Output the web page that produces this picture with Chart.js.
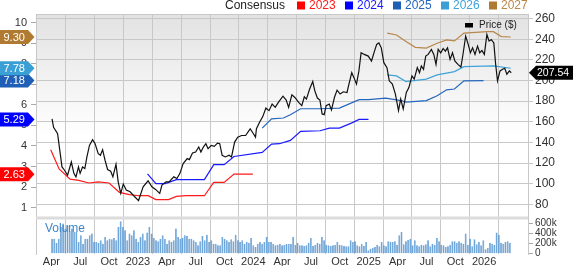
<!DOCTYPE html>
<html>
<head>
<meta charset="utf-8">
<script src="https://cdn.jsdelivr.net/npm/chart.js@4.4.1/dist/chart.umd.min.js"></script>
<style>
  html, body { margin: 0; padding: 0; background: #fff; }
  canvas { display: block; }
</style>
</head>
<body>
<canvas id="chart" width="573" height="266"></canvas>
<script>
// dates are decimal years, prices in $, EPS in $, volume in thousands of shares
const priceDates = [
  2022.256, 2022.269, 2022.304, 2022.323, 2022.342, 2022.364, 2022.390, 2022.423, 2022.445, 2022.463,
  2022.485, 2022.499, 2022.520, 2022.540, 2022.558, 2022.580, 2022.607, 2022.629, 2022.656, 2022.675,
  2022.694, 2022.715, 2022.737, 2022.764, 2022.783, 2022.810, 2022.829, 2022.851, 2022.873, 2022.899,
  2022.932, 2022.972, 2023.005, 2023.045, 2023.088, 2023.121, 2023.153, 2023.189, 2023.208, 2023.243,
  2023.270, 2023.311, 2023.338, 2023.364, 2023.392, 2023.427, 2023.446, 2023.473, 2023.500, 2023.527,
  2023.546, 2023.567, 2023.589, 2023.608, 2023.636, 2023.662, 2023.689, 2023.709, 2023.730, 2023.757,
  2023.790, 2023.811, 2023.838, 2023.865, 2023.898, 2023.933, 2023.973, 2024.001, 2024.019, 2024.027,
  2024.054, 2024.082, 2024.109, 2024.136, 2024.163, 2024.190, 2024.217, 2024.257, 2024.285, 2024.306,
  2024.334, 2024.360, 2024.393, 2024.420, 2024.442, 2024.460, 2024.488, 2024.515, 2024.533, 2024.555,
  2024.577, 2024.596, 2024.614, 2024.631, 2024.658, 2024.677, 2024.704, 2024.726, 2024.752, 2024.780,
  2024.812, 2024.825, 2024.853, 2024.872, 2024.894, 2024.915, 2024.934, 2024.961, 2024.996, 2025.024,
  2025.050, 2025.069, 2025.088, 2025.109, 2025.131, 2025.158, 2025.178, 2025.205, 2025.231, 2025.258,
  2025.277, 2025.299, 2025.326, 2025.348, 2025.375, 2025.394, 2025.421, 2025.440, 2025.456, 2025.475,
  2025.494, 2025.515, 2025.543, 2025.564, 2025.583, 2025.602, 2025.624, 2025.645, 2025.664, 2025.683,
  2025.705, 2025.726, 2025.746, 2025.773, 2025.799, 2025.819, 2025.840, 2025.862, 2025.881, 2025.900,
  2025.921, 2025.943, 2025.962, 2025.981, 2026.002, 2026.024, 2026.043, 2026.062, 2026.084, 2026.100,
  2026.116, 2026.138, 2026.160, 2026.179, 2026.197, 2026.219, 2026.235
];
const priceValues = [
  162.8, 154.7, 148.4, 132.3, 116.2, 113.0, 108.2, 121.0, 110.0, 106.6,
  116.2, 110.0, 116.2, 114.7, 125.9, 137.1, 142.6, 138.7, 129.1, 127.5,
  132.9, 122.7, 113.7, 112.1, 106.6, 118.8, 101.8, 90.6, 99.6, 93.8,
  92.1, 87.3, 83.5, 97.0, 102.8, 97.0, 94.4, 90.6, 98.6, 101.8,
  101.8, 106.6, 105.0, 110.0, 119.5, 124.3, 123.3, 129.7, 130.6, 135.5,
  130.6, 135.5, 138.7, 133.9, 137.1, 136.1, 139.3, 138.7, 127.5, 125.9,
  127.5, 125.9, 140.3, 145.1, 146.7, 146.7, 153.2, 148.4, 145.1, 153.2,
  159.5, 165.0, 173.4, 170.8, 177.2, 174.0, 178.8, 184.8, 181.1, 174.0,
  186.2, 183.6, 178.8, 175.6, 184.3, 182.0, 191.7, 199.0, 190.0, 183.0,
  181.1, 167.6, 166.9, 175.6, 177.2, 171.5, 184.0, 190.7, 186.9, 189.1,
  188.4, 194.8, 207.6, 202.8, 196.5, 209.3, 226.9, 225.3, 223.7, 218.9,
  228.5, 235.0, 236.5, 231.7, 217.3, 212.5, 199.7, 196.5, 186.9, 170.8,
  182.0, 172.4, 188.4, 193.2, 204.5, 201.3, 212.5, 207.6, 214.1, 210.9,
  223.7, 225.3, 230.2, 225.3, 215.7, 230.2, 226.9, 231.1, 228.5, 231.7,
  220.5, 226.9, 218.9, 215.7, 213.1, 226.9, 243.0, 235.0, 226.9, 231.7,
  225.3, 233.3, 226.9, 229.2, 225.3, 244.6, 238.2, 239.8, 236.5, 215.7,
  199.7, 209.3, 210.9, 211.9, 206.1, 209.3, 207.54
];

const eps2023Dates = [2022.244, 2022.317, 2022.412, 2022.488, 2022.575, 2022.656, 2022.750, 2022.840, 2022.926, 2023.007,
  2023.089, 2023.156, 2023.265, 2023.333, 2023.414, 2023.576, 2023.657, 2023.747, 2023.833, 2023.996];
const eps2023Values = [3.82, 2.88, 2.39, 2.33, 2.20, 2.25, 2.20, 1.74, 1.63, 1.58,
  1.58, 1.39, 1.39, 1.55, 1.58, 1.58, 2.23, 2.23, 2.63, 2.63];

const eps2024Dates = [2023.083, 2023.156, 2023.237, 2023.333, 2023.576, 2023.657, 2023.747, 2023.833, 2024.077, 2024.158,
  2024.226, 2024.321, 2024.410, 2024.578, 2024.659, 2024.746, 2024.849, 2024.917, 2024.998];
const eps2024Values = [2.64, 2.17, 2.17, 2.36, 2.36, 3.09, 3.09, 3.49, 3.69, 4.09,
  4.11, 4.27, 4.71, 4.74, 4.87, 4.87, 5.11, 5.29, 5.29];

const eps2025Dates = [2024.077, 2024.158, 2024.261, 2024.321, 2024.410, 2024.578, 2024.746, 2024.917, 2024.998, 2025.147,
  2025.282, 2025.323, 2025.499, 2025.593, 2025.675, 2025.743, 2025.825, 2025.995];
const eps2025Values = [4.87, 5.32, 5.36, 5.52, 5.81, 5.81, 5.84, 6.25, 6.25, 6.33,
  6.21, 6.13, 6.21, 6.44, 6.73, 6.77, 7.17, 7.18];

const eps2026Dates = [2025.160, 2025.241, 2025.323, 2025.499, 2025.593, 2025.743, 2025.825, 2026.081, 2026.231];
const eps2026Values = [7.46, 7.41, 7.13, 7.25, 7.46, 7.62, 7.86, 7.90, 7.78];

const eps2027Dates = [2025.160, 2025.241, 2025.323, 2025.404, 2025.499, 2025.593, 2025.675, 2025.743, 2025.825, 2026.028,
  2026.081, 2026.149, 2026.231];
const eps2027Values = [9.49, 9.40, 9.08, 8.80, 8.76, 9.00, 9.16, 9.11, 9.49, 9.56,
  9.56, 9.32, 9.30];

// weekly volume, first week starting here
const volumeStart = 2022.256;
const volumeValues = [
  297, 297, 211, 297, 528, 594, 495, 561, 442, 495, 429, 429, 231, 363, 198, 297, 297, 363, 396, 231,
  231, 218, 264, 198, 330, 264, 297, 284, 310, 264, 528, 640, 528, 462, 264, 396, 363, 462, 297, 231,
  330, 396, 264, 416, 528, 396, 310, 264, 244, 297, 363, 297, 198, 264, 231, 264, 495, 330, 297, 310,
  363, 350, 297, 297, 264, 231, 165, 244, 350, 264, 376, 231, 264, 198, 198, 165, 165, 330, 297, 264,
  231, 284, 244, 376, 264, 231, 264, 198, 231, 218, 310, 165, 132, 198, 231, 198, 231, 330, 231, 231,
  198, 165, 178, 198, 165,
  178, 191, 191, 191, 330, 178, 211, 165, 165, 152, 165, 218, 310, 152, 178, 218, 198, 330, 264, 178,
  165, 152, 165, 178, 231, 178, 165, 152, 145, 145, 264, 231, 244, 165, 145, 198, 152, 231, 66, 99,
  119, 132, 178, 145, 231, 165, 145, 244, 231, 231, 244, 178, 363, 429, 185, 244, 271, 297, 165, 264,
  165, 145, 178, 165, 185, 264, 145, 198, 178, 310, 244, 178, 165, 132, 145, 178, 244, 244, 218, 244,
  218, 198, 396, 178, 297, 145, 284, 185, 231, 165, 264, 86, 112, 218, 198, 178, 416, 376, 218, 198,
  231, 244, 211
];

const quarterTicks = [2022.25, 2022.5, 2022.75, 2023, 2023.25, 2023.5, 2023.75, 2024, 2024.25, 2024.5,
  2024.75, 2025, 2025.25, 2025.5, 2025.75, 2026];
const quarterLabels = ['Apr', 'Jul', 'Oct', '2023', 'Apr', 'Jul', 'Oct', '2024', 'Apr', 'Jul',
  'Oct', '2025', 'Apr', 'Jul', 'Oct', '2026'];
const priceTicks = [80, 100, 120, 140, 160, 180, 200, 220, 240, 260];
const epsTicks = [1, 2, 3, 4, 5, 6, 7, 8, 9, 10];
const volumeTicks = [0, 200, 400, 600];

const seriesNames = ['2023', '2024', '2025', '2026', '2027'];
const seriesColors = ['#ff1a1a', '#1a1aff', '#2466bd', '#3fa3d9', '#b8874a'];
const badgeColors = ['#ff0000', '#0000ff', '#1f5fb5', '#3a9fd4', '#b07a30'];

const font = '"Liberation Sans", Arial, sans-serif';
const gridColor = '#c8c8c8';

const toPoints = (xs, ys) => xs.map((x, i) => ({ x: x, y: ys[i] }));
const weekLen = 7 / 365.25;
const volumePoints = volumeValues.map((v, i) => ({ x: volumeStart + i * weekLen, y: v }));

const epsSets = [
  [eps2023Dates, eps2023Values],
  [eps2024Dates, eps2024Values],
  [eps2025Dates, eps2025Values],
  [eps2026Dates, eps2026Values],
  [eps2027Dates, eps2027Values]
].map((s, i) => ({
  type: 'line',
  label: seriesNames[i],
  data: toPoints(s[0], s[1]),
  yAxisID: 'yEps',
  borderColor: seriesColors[i],
  borderWidth: 1.2,
  pointRadius: 0,
  order: 1
}));

const decor = {
  id: 'decor',
  beforeDraw(chart) {
    const { ctx, chartArea: a, scales } = chart;
    const split = scales.yPrice.bottom;
    const g = ctx.createLinearGradient(0, a.top, 0, 135);
    g.addColorStop(0, '#e2e2e2');
    g.addColorStop(1, '#ffffff');
    ctx.save();
    ctx.fillStyle = g;
    ctx.fillRect(a.left, a.top, a.right - a.left, split - a.top);
    ctx.restore();
  },
  beforeDatasetsDraw(chart) {
    const { ctx, chartArea: a, scales } = chart;
    const split = scales.yPrice.bottom;
    ctx.save();
    ctx.fillStyle = '#dcdcdc';
    ctx.fillRect(a.left, split - 1.5, a.right - a.left, 3);
    ctx.strokeStyle = gridColor;
    ctx.lineWidth = 1;
    ctx.beginPath();
    ctx.moveTo(a.left, a.top + 0.5);
    ctx.lineTo(a.right, a.top + 0.5);
    ctx.stroke();
    ctx.restore();
  },
  afterDraw(chart) {
    const { ctx, chartArea: a, scales } = chart;
    ctx.save();

    // consensus legend
    ctx.textBaseline = 'middle';
    ctx.font = '12px ' + font;
    ctx.fillStyle = '#222';
    ctx.textAlign = 'right';
    ctx.fillText('Consensus', 285, 5.5);
    ctx.textAlign = 'left';
    seriesNames.forEach((n, i) => {
      const sx = 297 + i * 48;
      ctx.fillStyle = badgeColors[i];
      ctx.fillRect(sx, 1.5, 8, 8);
      ctx.fillStyle = seriesColors[i];
      ctx.fillText(n, sx + 12, 5.5);
    });

    // price legend
    ctx.fillStyle = '#000';
    ctx.fillRect(465, 23, 8, 4.5);
    ctx.font = '10px ' + font;
    ctx.fillStyle = '#222';
    ctx.fillText('Price ($)', 479, 25.5);

    // volume label
    ctx.font = '12px ' + font;
    ctx.fillStyle = '#3f86c8';
    ctx.fillText('Volume', 45, 229);

    // last EPS badges
    ctx.font = '11px ' + font;
    epsSets.forEach((ds, i) => {
      const last = ds.data[ds.data.length - 1].y;
      const y = scales.yEps.getPixelForValue(last);
      ctx.fillStyle = badgeColors[i];
      ctx.beginPath();
      ctx.moveTo(0, y - 7);
      ctx.lineTo(28, y - 7);
      ctx.lineTo(34.5, y);
      ctx.lineTo(28, y + 7);
      ctx.lineTo(0, y + 7);
      ctx.closePath();
      ctx.fill();
      ctx.fillStyle = '#fff';
      ctx.fillText(last.toFixed(2), 3.5, y + 0.5);
    });

    // last price badge
    const lastPrice = priceValues[priceValues.length - 1];
    const py = scales.yPrice.getPixelForValue(lastPrice);
    ctx.fillStyle = '#000';
    ctx.beginPath();
    ctx.moveTo(a.right + 1, py);
    ctx.lineTo(a.right + 8, py - 7);
    ctx.lineTo(573, py - 7);
    ctx.lineTo(573, py + 7);
    ctx.lineTo(a.right + 8, py + 7);
    ctx.closePath();
    ctx.fill();
    ctx.fillStyle = '#fff';
    ctx.font = '10.5px ' + font;
    ctx.fillText(lastPrice.toFixed(2), 537, py + 0.5);

    ctx.restore();
  }
};

const setTicks = list => scale => { scale.ticks = list.map(v => ({ value: v })); };

new Chart(document.getElementById('chart').getContext('2d'), {
  type: 'line',
  data: {
    datasets: [
      {
        type: 'line',
        label: 'Price ($)',
        data: toPoints(priceDates, priceValues),
        yAxisID: 'yPrice',
        borderColor: '#111',
        borderWidth: 1.2,
        pointRadius: 0,
        order: 0
      },
      ...epsSets,
      {
        type: 'bar',
        label: 'Volume',
        data: volumePoints,
        yAxisID: 'yVol',
        backgroundColor: '#5b9bd5',
        borderColor: '#3f80c2',
        borderWidth: { left: 0.5, right: 0.5, top: 0, bottom: 0 },
        barPercentage: 0.85,
        categoryPercentage: 1,
        order: 5
      }
    ]
  },
  options: {
    responsive: false,
    animation: false,
    devicePixelRatio: 1,
    layout: { padding: { top: 14, left: 0, right: 0, bottom: 0 } },
    plugins: { legend: { display: false }, tooltip: { enabled: false } },
    scales: {
      x: {
        type: 'linear',
        min: 2022.25,
        max: 2026.247,
        afterBuildTicks: setTicks(quarterTicks),
        afterFit: s => { s.height = 12; },
        ticks: {
          autoSkip: false,
          maxRotation: 0,
          padding: 1,
          color: '#333',
          font: { family: font, size: 11 },
          callback: (v, i) => quarterLabels[i]
        },
        grid: { color: gridColor, drawTicks: false },
        border: { display: false }
      },
      yEps: {
        type: 'linear',
        position: 'left',
        min: -1.255,
        max: 10.42,
        afterBuildTicks: setTicks(epsTicks),
        afterFit: s => { s.width = 36; },
        ticks: { autoSkip: false, color: '#333', padding: 4, font: { family: font, size: 11 } },
        grid: { drawOnChartArea: false, tickLength: 5, color: '#aaa' },
        border: { display: true, color: gridColor }
      },
      yPrice: {
        type: 'linear',
        position: 'right',
        stack: 'right',
        stackWeight: 204,
        min: 66.7,
        max: 264.5,
        afterBuildTicks: setTicks(priceTicks),
        afterFit: s => { s.width = 45; },
        ticks: { autoSkip: false, color: '#333', padding: 2, font: { family: font, size: 12 } },
        grid: { color: gridColor, tickLength: 5 },
        border: { display: true, color: gridColor }
      },
      yVol: {
        type: 'linear',
        position: 'right',
        stack: 'right',
        stackWeight: 36,
        min: -6,
        max: 704,
        afterBuildTicks: setTicks(volumeTicks),
        afterFit: s => { s.width = 45; },
        ticks: {
          autoSkip: false,
          color: '#333',
          padding: 2,
          font: { family: font, size: 10 },
          callback: v => (v === 0 ? '0' : v + 'k')
        },
        grid: { drawOnChartArea: false, tickLength: 5, color: '#aaa' },
        border: { display: true, color: gridColor }
      }
    }
  },
  plugins: [decor]
});
</script>
</body>
</html>
